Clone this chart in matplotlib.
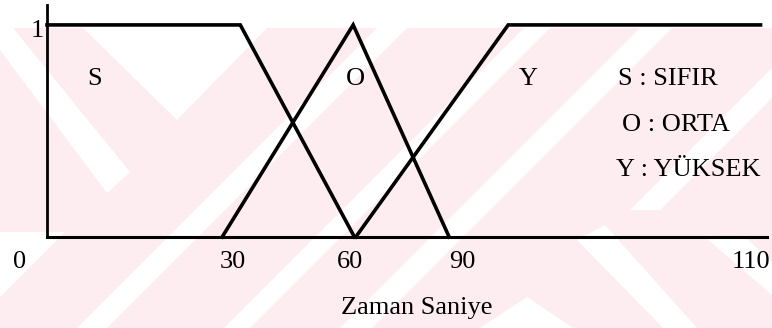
import matplotlib.pyplot as plt
from matplotlib.patches import Polygon

# membership functions (x in seconds, scaled as drawn in the figure)
s_x = [0, 29.8, 47.4]
s_y = [1, 1, 0]
o_x = [27.0, 47.2, 62.0]
o_y = [0, 1, 0]
y_x = [47.6, 71.1, 110]
y_y = [0, 1, 1]

tick_pos = [-4.2, 28.7, 46.7, 64.0, 108.5]
tick_lab = ['0', '30', '60', '90', '110']

letters = ['S', 'O', 'Y']
letter_x = [7.3, 47.6, 74.2]
legend_txt = ['S : SIFIR', 'O : ORTA', 'Y : YÜKSEK']

plt.rcParams['font.family'] = ['Liberation Serif', 'DejaVu Serif']

fig = plt.figure(figsize=(7.72, 3.28), dpi=100)

# faint watermark in the background (pixel coordinates)
bg = fig.add_axes([0, 0, 1, 1], zorder=-1)
bg.set_xlim(0, 772)
bg.set_ylim(328, 0)
bg.axis('off')
pink = '#fdedf0'
bg.add_patch(Polygon([(0, 28), (772, 28), (772, 328), (0, 328)], color=pink, lw=0))
white_shapes = [
    [(0, 28), (13, 28), (130, 172), (107, 193), (0, 50)],
    [(83, 28), (267, 28), (177, 120)],
    [(77, 328), (107, 328), (407, 28), (377, 28)],
    [(224, 328), (250, 328), (550, 28), (524, 28)],
    [(340, 328), (372, 328), (672, 28), (640, 28)],
    [(630, 210), (660, 210), (772, 98), (772, 68)],
    [(0, 232), (65, 232), (0, 297)],
    [(480, 328), (527, 297), (573, 328)],
    [(577, 240), (605, 225), (697, 328), (663, 328)],
    [(705, 237), (745, 237), (772, 262), (772, 295)],
]
for pts in white_shapes:
    bg.add_patch(Polygon(pts, color='white', lw=0))

# main axes
ax = fig.add_axes([47 / 772, (328 - 237) / 328, 720 / 772, 232 / 328])
ax.patch.set_alpha(0)
ax.set_xlim(0, 111)
ax.set_ylim(0, 1.094)

lw = 2.6
ax.plot(s_x, s_y, color='black', lw=lw, solid_joinstyle='miter', clip_on=False)
ax.plot(o_x, o_y, color='black', lw=lw, solid_joinstyle='miter', clip_on=False)
ax.plot(y_x, y_y, color='black', lw=lw, solid_joinstyle='miter', clip_on=False)

for side in ['top', 'right']:
    ax.spines[side].set_visible(False)
ax.spines['left'].set_linewidth(2.0)
ax.spines['bottom'].set_linewidth(2.2)
ax.set_xticks([])
ax.set_yticks([])

fs = 19
for p, t in zip(tick_pos, tick_lab):
    ax.text(p, -0.118, t, ha='center', va='center', fontsize=fs)
ax.text(-0.4, 0.97, '1', ha='right', va='center', fontsize=fs)

for lx, t in zip(letter_x, letters):
    ax.text(lx, 0.745, t, ha='center', va='center', fontsize=fs)

leg_x = [88.0, 88.6, 87.7]
leg_y = [0.745, 0.53, 0.315]
for lx, ly, t in zip(leg_x, leg_y, legend_txt):
    ax.text(lx, ly, t, ha='left', va='center', fontsize=fs)

ax.text(57.0, -0.335, 'Zaman Saniye', ha='center', va='center', fontsize=fs)

fig.savefig('out.png', dpi=100)
